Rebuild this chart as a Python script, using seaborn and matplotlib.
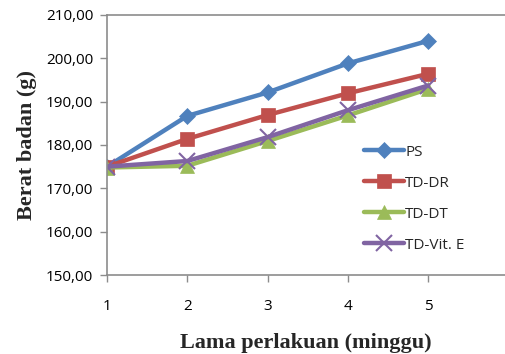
import matplotlib
matplotlib.use("Agg")
import matplotlib.pyplot as plt
import pandas as pd
import seaborn as sns
from matplotlib.ticker import FuncFormatter

weeks = [1, 2, 3, 4, 5]
ps = [175.0, 186.7, 192.1, 198.8, 204.0]
td_dr = [175.0, 181.4, 186.9, 191.9, 196.4]
td_dt = [174.8, 175.2, 180.9, 186.8, 192.9]
td_vit_e = [175.0, 176.3, 181.8, 188.0, 193.7]

series = ["PS", "TD-DR", "TD-DT", "TD-Vit. E"]
colors = ["#4F81BD", "#C0504D", "#9BBB59", "#8064A2"]
markers = ["D", "s", "^", "x"]
sizes = [8, 10, 10, 11]


def main():
    df = pd.DataFrame({"minggu": weeks, "PS": ps, "TD-DR": td_dr,
                       "TD-DT": td_dt, "TD-Vit. E": td_vit_e})
    long = df.melt(id_vars="minggu", var_name="grup", value_name="berat")

    sns.set_style("white")
    plt.rcParams["font.family"] = ["Open Sans", "DejaVu Sans"]

    fig = plt.figure(figsize=(5.05, 3.54), dpi=100)
    ax = fig.add_axes([0.212, 0.223, 0.788, 0.735])

    for name, col, mk, ms in zip(series, colors, markers, sizes):
        sub = long[long["grup"] == name]
        sns.lineplot(data=sub, x="minggu", y="berat", ax=ax, color=col,
                     marker=mk, markersize=ms, linewidth=3.2, label=name,
                     markeredgecolor=col, markeredgewidth=1.5 if mk == "x" else 0.5)

    ax.set_xlim(1, 5.96)
    ax.set_ylim(150, 210)
    ax.set_xticks(weeks)
    ax.set_yticks(range(150, 211, 10))
    ax.yaxis.set_major_formatter(FuncFormatter(lambda v, p: f"{v:.2f}".replace(".", ",")))
    ax.tick_params(axis="both", labelsize=11, colors="#8c8c8c", length=5,
                   width=1, direction="out", bottom=True, left=True)
    ax.tick_params(axis="x", pad=12, labelcolor="black")
    ax.tick_params(axis="y", pad=5, labelcolor="black")

    for s in ["left", "bottom", "top"]:
        ax.spines[s].set_color("#8c8c8c")
        ax.spines[s].set_linewidth(1.2)
    ax.spines["right"].set_visible(False)

    ax.set_xlabel("Lama perlakuan (minggu)", fontsize=16, fontweight="bold",
                  family="Liberation Serif", labelpad=14)
    ax.set_ylabel("Berat badan (g)", fontsize=16, fontweight="bold",
                  family="Liberation Serif", labelpad=6)

    ax.legend(loc="upper left", bbox_to_anchor=(0.63, 0.525), frameon=False,
              fontsize=11, handlelength=2.6, handletextpad=0.1,
              labelspacing=1.05, borderaxespad=0)

    fig.savefig("out.png", dpi=100)


if __name__ == "__main__":
    main()
